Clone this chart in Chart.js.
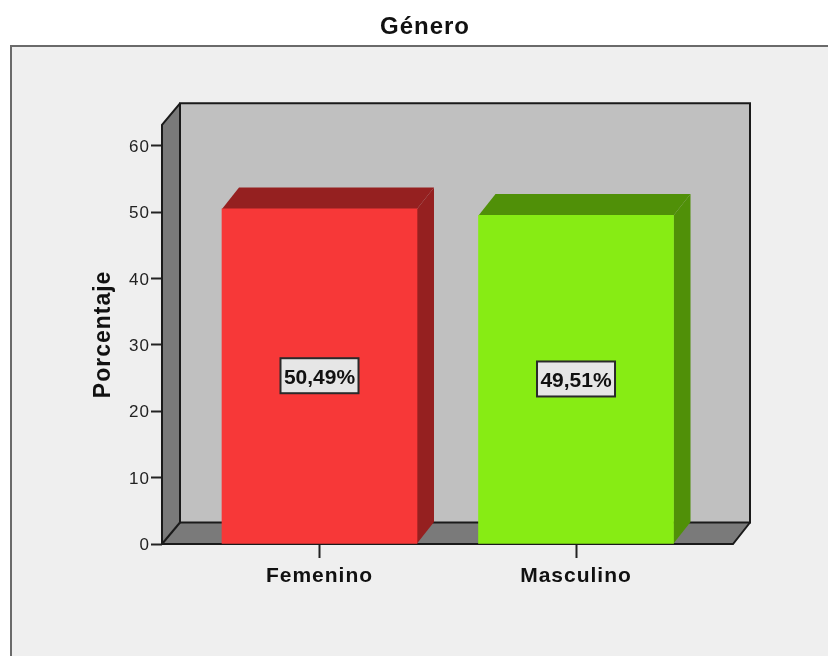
<!DOCTYPE html>
<html><head><meta charset="utf-8">
<style>html,body{margin:0;padding:0;background:#fff}canvas{display:block}</style>
<script src="https://cdn.jsdelivr.net/npm/chart.js@4"></script>
</head><body>
<div style="width:828px;height:656px"><canvas id="c" width="828" height="656"></canvas></div>
<script>
const chartTitle = 'Género';
const axisTitle = 'Porcentaje';
const categories = ['Femenino', 'Masculino'];
const positions = [0, 1];
const percentages = [50.49, 49.51];
const valueLabels = ['50,49%', '49,51%'];
const barColors = ['#f73838', '#87ec14'];
const barTopColors = ['#952020', '#509008'];
const depthX = 18, depthY = 21.5, barDepthX = 17;

function poly(ctx, pts, fill) {
  ctx.beginPath();
  pts.forEach((p, i) => i ? ctx.lineTo(p[0], p[1]) : ctx.moveTo(p[0], p[1]));
  ctx.closePath();
  ctx.fillStyle = fill;
  ctx.fill();
}
function outline(ctx, pts, color, w) {
  ctx.beginPath();
  pts.forEach((p, i) => i ? ctx.lineTo(p[0], p[1]) : ctx.moveTo(p[0], p[1]));
  ctx.strokeStyle = color;
  ctx.lineWidth = w;
  ctx.stroke();
}
const frame = {
  id: 'frame',
  beforeDraw(chart) {
    const ctx = chart.ctx;
    ctx.save();
    ctx.fillStyle = '#ffffff';
    ctx.fillRect(0, 0, chart.width, chart.height);
    ctx.fillStyle = '#efefef';
    ctx.fillRect(10, 45, chart.width, chart.height);
    outline(ctx, [[11, chart.height], [11, 46], [chart.width, 46]], '#6a6a6a', 2);
    ctx.restore();
    ctx.letterSpacing = '1px';
  }
};
const box3d = {
  id: 'box3d',
  beforeDatasetsDraw(chart) {
    const ctx = chart.ctx, a = chart.chartArea;
    const l = a.left, r = a.right, t = a.top, b = a.bottom;
    const L = l + depthX, R = r + depthX - 1, T = t - depthY, B = b - depthY;
    ctx.save();
    poly(ctx, [[L, T], [R, T], [R, B], [L, B]], '#c0c0c0');
    poly(ctx, [[l, t], [L, T], [L, B], [l, b]], '#7a7a7a');
    poly(ctx, [[l, b], [L, B], [R, B], [r, b]], '#7a7a7a');
    const k = '#1a1a1a';
    outline(ctx, [[L, B], [L, T], [R, T], [R, B], [L, B]], k, 2);
    outline(ctx, [[l, b], [l, t], [L, T]], k, 2);
    outline(ctx, [[l, b], [L, B]], k, 2);
    outline(ctx, [[l, b], [r, b], [R, B]], k, 2);
    chart.getDatasetMeta(0).data.forEach((bar, i) => {
      const x0 = bar.x - bar.width / 2, x1 = bar.x + bar.width / 2, y = bar.y, base = bar.base;
      poly(ctx, [[x0, y], [x0 + barDepthX, y - depthY], [x1 + barDepthX, y - depthY], [x1, y]], barTopColors[i]);
      poly(ctx, [[x1, y], [x1 + barDepthX, y - depthY], [x1 + barDepthX, base - depthY], [x1, base]], barTopColors[i]);
    });
    ctx.restore();
  },
  afterDatasetsDraw(chart) {
    const ctx = chart.ctx;
    ctx.save();
    ctx.letterSpacing = '0px';
    ctx.font = 'bold 21px "Liberation Sans"';
    ctx.textAlign = 'center';
    ctx.textBaseline = 'middle';
    chart.getDatasetMeta(0).data.forEach((bar, i) => {
      const cy = (bar.y + bar.base) / 2;
      ctx.fillStyle = '#e6e6e6';
      ctx.fillRect(bar.x - 39, cy - 18, 78, 35);
      ctx.strokeStyle = '#2a2a2a';
      ctx.lineWidth = 2;
      ctx.strokeRect(bar.x - 39, cy - 18, 78, 35);
      ctx.fillStyle = '#111';
      ctx.fillText(valueLabels[i], bar.x, cy + 1.5);
    });
    ctx.restore();
  }
};
new Chart(document.getElementById('c'), {
  type: 'bar',
  data: {
    datasets: [{
      data: positions.map((x, i) => ({ x, y: percentages[i] })),
      backgroundColor: barColors,
      borderWidth: 0,
      barThickness: 195
    }]
  },
  plugins: [frame, box3d],
  options: {
    responsive: false,
    animation: false,
    layout: { padding: { left: 117, right: 95, top: 0, bottom: 0 } },
    plugins: {
      legend: { display: false },
      tooltip: { enabled: false },
      title: {
        display: true,
        text: chartTitle,
        color: '#111',
        font: { family: '"Liberation Sans"', size: 24, weight: 'bold', lineHeight: 1.2 },
        padding: { top: 13, bottom: 83 }
      }
    },
    scales: {
      x: {
        type: 'linear',
        offset: false,
        min: -0.614,
        max: 1.612,
        afterFit(s) { s.height = 112; },
        border: { display: false },
        grid: { offset: false, drawOnChartArea: false, drawTicks: true, tickLength: 14, tickColor: '#222', tickWidth: 2 },
        ticks: {
          stepSize: 1,
          includeBounds: false,
          autoSkip: false,
          maxRotation: 0,
          padding: 6,
          color: '#111',
          font: { family: '"Liberation Sans"', size: 21, weight: 'bold' },
          callback: v => categories[v] ?? ''
        }
      },
      y: {
        min: 0,
        max: 63.17,
        afterFit(s) { s.width = 45; },
        border: { display: false },
        grid: { drawOnChartArea: false, drawTicks: true, tickLength: 11, tickColor: '#222', tickWidth: 2 },
        ticks: {
          stepSize: 10,
          includeBounds: false,
          padding: 1,
          labelOffset: 1.5,
          color: '#222',
          font: { family: '"Liberation Sans"', size: 17 }
        },
        title: {
          display: true,
          text: axisTitle,
          color: '#111',
          font: { family: '"Liberation Sans"', size: 23, weight: 'bold' },
          padding: { top: -27, bottom: 0 }
        }
      }
    }
  }
});
</script>
</body></html>
